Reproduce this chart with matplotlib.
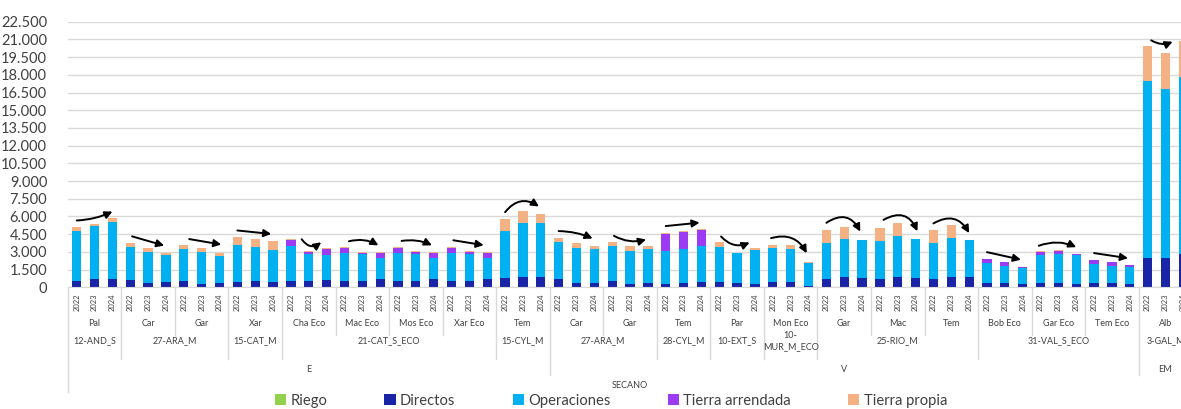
import numpy as np
import matplotlib.pyplot as plt
import matplotlib.transforms as mtransforms
from matplotlib.ticker import FuncFormatter

plt.rcParams['font.family'] = ['Lato', 'DejaVu Sans']

# --- data ---
anios = ['2022', '2023', '2024']
variedades = ['Pal', 'Car', 'Gar', 'Xar', 'Cha Eco', 'Mac Eco', 'Mos Eco', 'Xar Eco', 'Tem',
              'Car', 'Gar', 'Tem', 'Par', 'Mon Eco', 'Gar', 'Mac', 'Tem',
              'Bob Eco', 'Gar Eco', 'Tem Eco', 'Alb']
regiones = ['12-AND_S', '27-ARA_M', '15-CAT_M', '21-CAT_S_ECO', '15-CYL_M', '27-ARA_M',
            '28-CYL_M', '10-EXT_S', '10-\nMUR_M_ECO', '25-RIO_M', '31-VAL_S_ECO', '3-GAL_M']
regiones_n = [1, 2, 1, 4, 1, 2, 1, 1, 1, 3, 3, 1]   # variedades per region
zonas = ['E', 'V', 'EM']
zonas_n = [9, 11, 1]                                  # variedades per zone
sistema = 'SECANO'

series = ['Riego', 'Directos', 'Operaciones', 'Tierra arrendada', 'Tierra propia']
colores = ['#92D050', '#1A24A6', '#00B0F0', '#9B3BF2', '#F4B183']

riego = [0, 0, 0,  0, 0, 0,  0, 0, 0,  0, 0, 0,  0, 0, 0,  0, 0, 0,  0, 0, 0,
         0, 0, 0,  0, 0, 0,  0, 0, 0,  0, 0, 0,  0, 0, 0,  0, 0, 0,  0, 0, 0,
         0, 0, 0,  0, 0, 0,  0, 0, 0,  0, 0, 0,  0, 0, 0,  0, 0, 0,  0, 0, 0]
directos = [540, 680, 730,  650, 395, 450,  536, 282, 395,  450, 508, 450,
            536, 536, 620,  536, 536, 677,  536, 536, 677,  536, 536, 677,
            818, 875, 875,  677, 395, 395,  536, 282, 395,  282, 338, 480,
            480, 338, 282,  423, 480, 140,  677, 875, 818,  677, 875, 790,
            677, 875, 875,  338, 338, 282,  395, 395, 282,  338, 338, 282,
            2455, 2510, 2820]
operaciones = [4230, 4540, 4770,  2740, 2625, 2260,  2680, 2740, 2255,  3135, 2905, 2710,
               2995, 2285, 2145,  2400, 2285, 1780,  2375, 2285, 1780,  2400, 2285, 1780,
               3950, 4600, 4600,  3165, 2935, 2880,  2965, 2825, 2880,  2770, 2935, 3020,
               2935, 2540, 2880,  2935, 2795, 1890,  3080, 3190, 3190,  3250, 3500, 3305,
               3080, 3330, 3135,  1690, 1500, 1355,  2370, 2400, 2455,  1640, 1500, 1440,
               14995, 14290, 15020]
arrendada = [0, 0, 0,  0, 0, 0,  0, 0, 0,  0, 0, 0,
             480, 200, 455,  425, 115, 425,  420, 200, 425,  425, 200, 425,
             0, 0, 0,  0, 0, 0,  0, 0, 0,  1495, 1380, 1355,
             0, 0, 0,  0, 0, 0,  0, 0, 0,  0, 0, 0,
             0, 0, 0,  370, 280, 85,  255, 310, 85,  340, 280, 140,
             0, 0, 0]
propia = [310, 115, 340,  390, 310, 200,  365, 310, 260,  650, 650, 765,
          110, 55, 80,  55, 85, 85,  85, 55, 85,  80, 55, 85,
          1015, 1015, 765,  340, 425, 255,  310, 365, 195,  60, 85, 60,
          395, 55, 170,  250, 280, 140,  1125, 1045, 25,  1125, 1075, 0,
          1075, 1105, 0,  0, 0, 0,  55, 55, 0,  0, 0, 0,
          3020, 3020, 2990]

# hand-drawn trend arrows: start / end (in bars from the group's first bar) and curvature
flecha_x0 = [0, 0.1, 0.3, 0, 0.6, 0.25, 0.2, 0.1, 0, 0, 0.1, 0, 0.1, -0.1,
             0, 0.2, 0, 0, -0.1, 0, 0.2]
flecha_x1 = [2.0, 1.9, 2.1, 1.9, 1.7, 1.9, 1.9, 1.8, 1.9, 1.9, 1.9, 1.9, 1.7, 1.9,
             1.9, 2.1, 2.0, 1.9, 2.0, 1.9, 1.4]
flecha_rad = [0.1, 0, 0, 0, 0.5, -0.2, -0.15, 0, -0.45, -0.1, 0.2, 0, 0.35, -0.4,
              -0.55, -0.55, -0.5, 0, -0.2, 0, 0.25]

W, H = 1181, 409
fig = plt.figure(figsize=(W / 100, H / 100), dpi=100)
y0_px, ytop_px, xleft_px = 287.3, 21.7, 68
ax = fig.add_axes([xleft_px / W, 1 - y0_px / H, 1 - xleft_px / W, (y0_px - ytop_px) / H])

n = len(directos)
x = np.arange(n)
valores = [riego, directos, operaciones, arrendada, propia]
base = np.zeros(n)
for nombre, vals, col in zip(series, valores, colores):
    ax.bar(x, vals, bottom=base, width=0.52, color=col, label=nombre, zorder=2)
    base = base + np.array(vals)
total = base

ax.set_ylim(0, 22500)
ax.set_xlim(-0.49, 61.87)
ax.set_yticks(np.arange(0, 22501, 1500))
ax.yaxis.set_major_formatter(FuncFormatter(lambda v, p: f'{int(v):,}'.replace(',', '.')))
ax.tick_params(axis='y', length=0, pad=15, labelsize=10.5, labelcolor='#404040')
ax.set_xticks([])
ax.grid(axis='y', color='#D9D9D9', lw=1, zorder=0)
for s in ['top', 'right', 'left']:
    ax.spines[s].set_visible(False)
ax.spines['bottom'].set_color('#D9D9D9')

# trend arrows, drawn a little above the bar tops
for g, rad in enumerate(flecha_rad):
    xa, xb = g * 3 + flecha_x0[g], g * 3 + flecha_x1[g]
    ya, yb = np.interp(xa, x, total) + 580, np.interp(xb, x, total) + 580
    ax.annotate('', xy=(xb, yb), xytext=(xa, ya),
                arrowprops=dict(arrowstyle='-|>', color='black', lw=1.4, mutation_scale=11,
                                shrinkA=0, shrinkB=0, connectionstyle=f'arc3,rad={rad}'),
                annotation_clip=False)

# multi-level category axis
trans = mtransforms.blended_transform_factory(ax.transData, fig.transFigure)
fy = lambda px: 1 - px / H
lab = dict(transform=trans, ha='center', va='center', color='#404040', clip_on=False)

for i in range(n):
    ax.text(i, fy(302), anios[i % 3], rotation=90, fontsize=5.5, **lab)
for g, nombre in enumerate(variedades):
    ax.text(g * 3 + 1, fy(323), nombre, fontsize=6.5, **lab)

ends = {}
pos = 0
for nombre, k in zip(regiones, regiones_n):
    ax.text(pos * 3 + k * 1.5 - 0.5, fy(341), nombre, fontsize=6.5, linespacing=1.3, **lab)
    pos += k
    ends[pos] = 359
pos = 0
for nombre, k in zip(zonas, zonas_n):
    ax.text(pos * 3 + k * 1.5 - 0.5, fy(369), nombre, fontsize=6.5, **lab)
    pos += k
    ends[pos] = 375
ax.text(n / 2 - 0.5, fy(386), sistema, fontsize=6.5, **lab)

for g in range(1, len(variedades)):
    yend = ends.get(g, 335)
    ax.plot([g * 3 - 0.5] * 2, [fy(y0_px), fy(yend)], transform=trans,
            color='#D9D9D9', lw=1, clip_on=False)
ax.plot([-0.5, -0.5], [fy(y0_px), fy(392)], transform=trans, color='#D9D9D9', lw=1, clip_on=False)

fig.legend(loc='center', bbox_to_anchor=(611 / W, fy(401)), ncol=5, frameon=False,
           fontsize=10.6, handlelength=0.75, handleheight=0.75, handletextpad=0.3,
           columnspacing=3.9, labelcolor='#404040')

fig.savefig('out.png', dpi=100)
